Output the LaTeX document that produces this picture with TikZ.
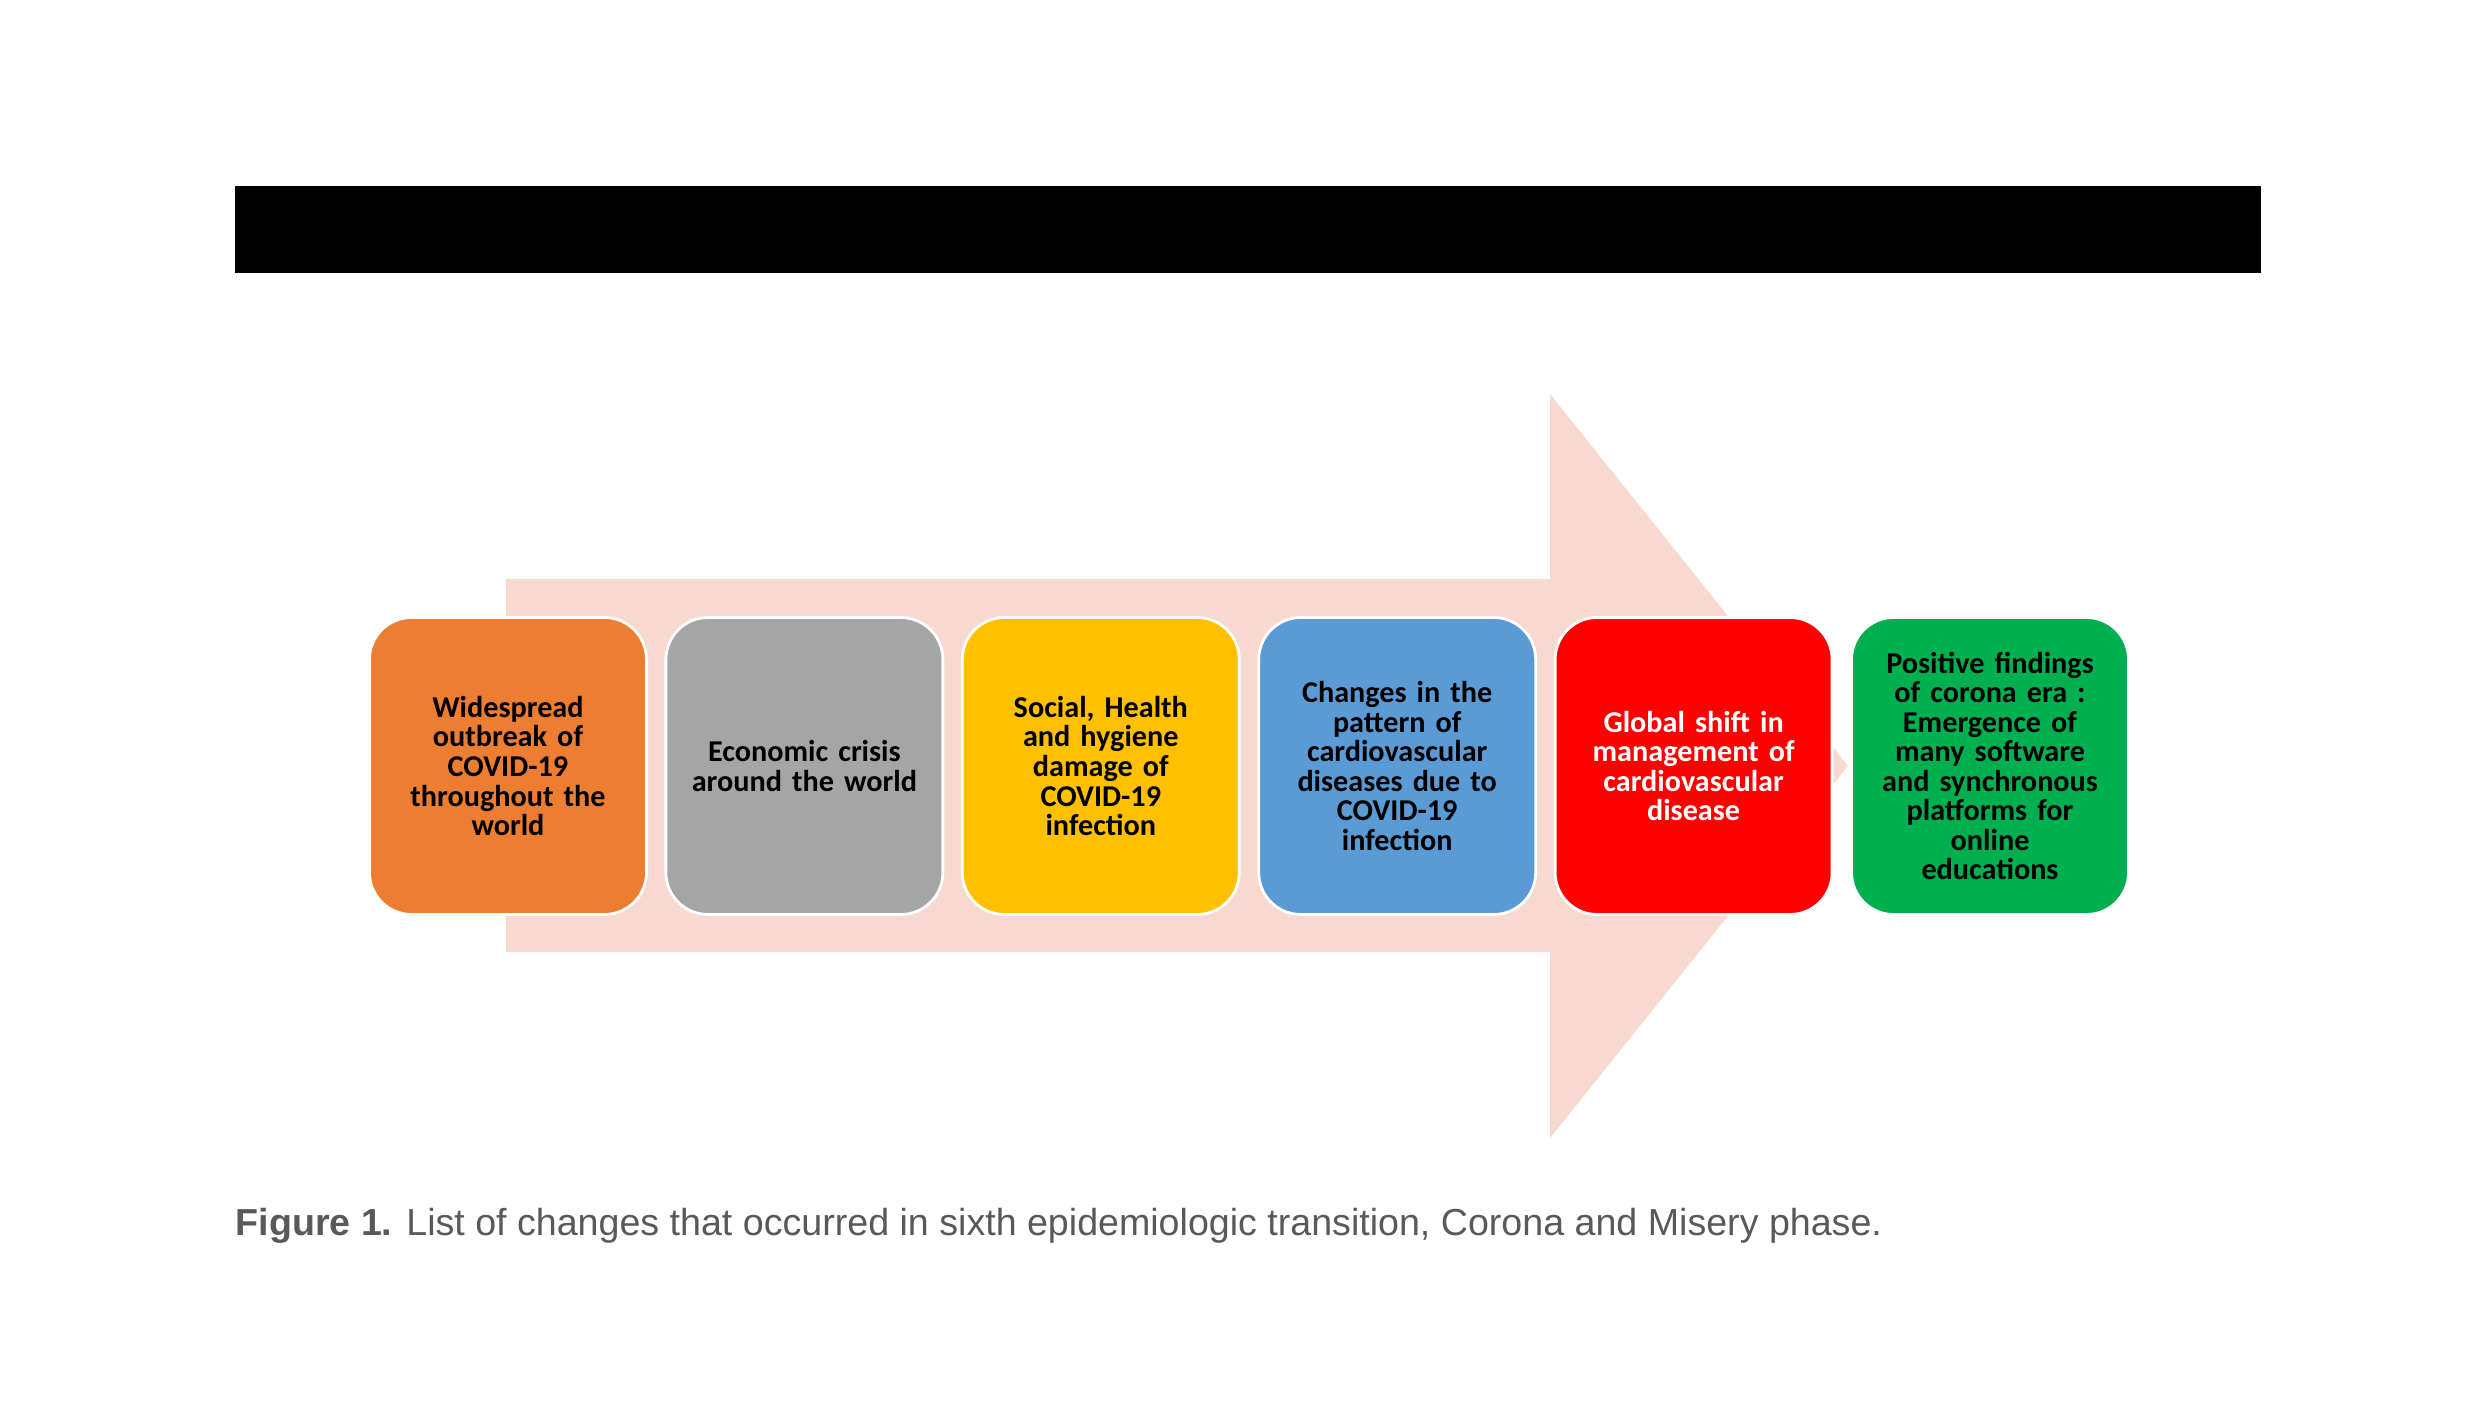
\documentclass[tikz,border=0pt]{standalone}
\usepackage{fontspec}
\setmainfont{Carlito}
\newfontfamily\capfont{Liberation Sans}
\usetikzlibrary{matrix}

\definecolor{arrowpink}{RGB}{247,217,207}
\definecolor{boxorange}{RGB}{237,125,49}
\definecolor{boxgray}{RGB}{165,165,165}
\definecolor{boxgold}{RGB}{255,192,0}
\definecolor{boxblue}{RGB}{91,155,213}
\definecolor{boxred}{RGB}{255,0,0}
\definecolor{boxgreen}{RGB}{0,176,80}
\definecolor{capgray}{RGB}{89,89,89}

\begin{document}
\begin{tikzpicture}[
every node/.style={%anchor=base,
    inner sep =1pt
    },
stage/.style={rounded corners=0.42cm, draw=white, line width=0.8pt, anchor=center,
    minimum width=2.77cm, minimum height=2.97cm, text width=2.55cm,
    align=center, font=\bfseries\fontsize{8.6}{8.4}\selectfont}
]
\useasboundingbox (0,0) rectangle (24.8,14.17);

% black band
\fill[black] (2.35,11.44) rectangle (22.61,12.31);

% big arrow behind the boxes
\fill[arrowpink] (5.06,8.38) -- (15.50,8.38) -- (15.50,10.23) -- (18.48,6.51)
    -- (15.50,2.79) -- (15.50,4.65) -- (5.06,4.65) -- cycle;

\matrix (c) at (12.49,6.51) [matrix of nodes, column sep=0.166cm, ampersand replacement=\&,
    nodes={stage}]{
|[fill=boxorange]| {Widespread\\outbreak of\\COVID-19\\throughout the\\world}
\& |[fill=boxgray]| {Economic crisis\\around the world}
\& |[fill=boxgold]| {Social, Health\\and hygiene\\damage of\\COVID-19\\infection}
\& |[fill=boxblue]| {Changes in the\\pattern of\\cardiovascular\\diseases due to\\COVID-19\\infection}
\& |[fill=boxred, text=white]| {Global shift in\\management of\\cardiovascular\\disease}
\& |[fill=boxgreen]| {Positive findings\\of corona era :\\Emergence of\\many software\\and synchronous\\platforms for\\online\\educations}
\\
};

% caption
\node (caption) [anchor=west, inner sep=0pt, text=capgray, font=\capfont\fontsize{10.7}{12}\selectfont]
    at (2.35,1.91) {\textbf{Figure 1.} List of changes that occurred in sixth epidemiologic transition, Corona and Misery phase.};

\end{tikzpicture}
\end{document}
